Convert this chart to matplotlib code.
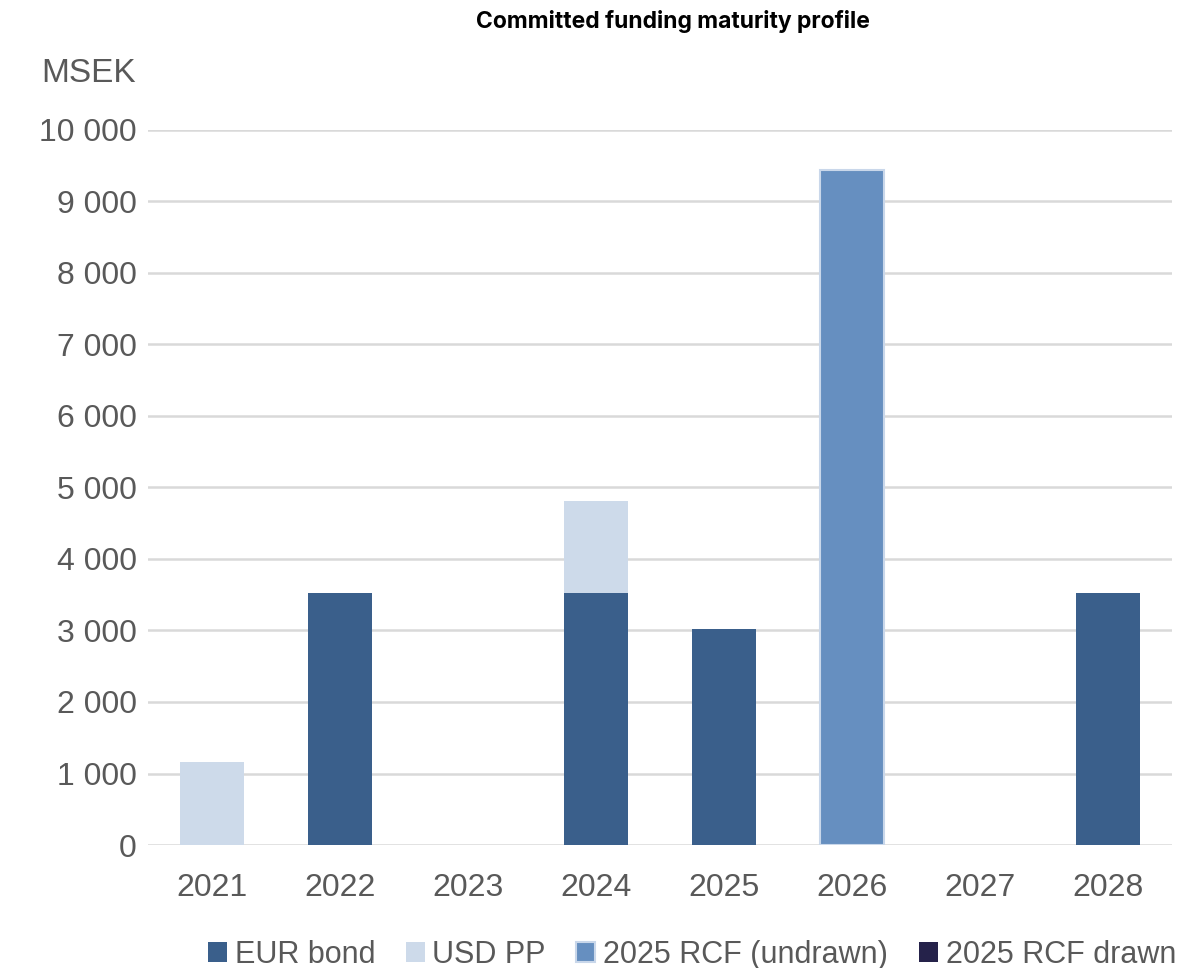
import matplotlib
matplotlib.use('Agg')
import matplotlib.pyplot as plt
import numpy as np

years = ['2021', '2022', '2023', '2024', '2025', '2026', '2027', '2028']
eur_bond = [0, 3520, 0, 3520, 3020, 0, 0, 3520]
usd_pp = [1160, 0, 0, 1290, 0, 0, 0, 0]
rcf_undrawn = [0, 0, 0, 0, 0, 9440, 0, 0]
rcf_drawn = [0, 0, 0, 0, 0, 0, 0, 0]
yticks = [0, 1000, 2000, 3000, 4000, 5000, 6000, 7000, 8000, 9000, 10000]

plt.rcParams['font.family'] = ['Liberation Sans', 'DejaVu Sans']
txt = '#595959'

fig = plt.figure(figsize=(11.99, 9.68), dpi=100)
ax = fig.add_axes([0.1235, 0.127, 0.854, 0.739])

x = np.arange(len(years))
w = 0.5
series = [
    (np.array(eur_bond, float), '#3A5F8B', 'none', 'EUR bond'),
    (np.array(usd_pp, float), '#CDDAEA', 'none', 'USD PP'),
    (np.array(rcf_undrawn, float), '#668FC0', '#C9D7EA', '2025 RCF (undrawn)'),
    (np.array(rcf_drawn, float), '#25224A', 'none', '2025 RCF drawn'),
]
bottom = np.zeros(len(years))
for vals, col, ec, lab in series:
    m = vals > 0
    ax.bar(x[m], vals[m], w, bottom=bottom[m], color=col, edgecolor=ec,
           linewidth=1.5, zorder=3)
    # legend proxy
    ax.bar([0], [0], w, color=col, edgecolor=ec, linewidth=1.5, label=lab)
    bottom += vals

ax.set_xlim(-0.5, len(years) - 0.5)
ax.set_ylim(0, 10000)
ax.set_yticks(yticks)
ax.set_yticklabels([f'{v:,}'.replace(',', ' ') for v in yticks])
ax.set_xticks(x)
ax.set_xticklabels(years)
ax.tick_params(axis='both', length=0, labelsize=23, colors=txt)
ax.tick_params(axis='x', pad=20)
ax.tick_params(axis='y', pad=8)
ax.grid(axis='y', color='#D9D9D9', linewidth=1.8, zorder=0)
for s in ax.spines.values():
    s.set_visible(False)

fig.text(0.561, 0.978, 'Committed funding maturity profile', ha='center',
         va='center', fontsize=16.5, fontweight='bold', color='black',
         family=['Inter', 'DejaVu Sans'])
fig.text(0.034, 0.924, 'MSEK', ha='left', va='center', fontsize=24, color=txt)

leg = fig.legend(loc='lower center', bbox_to_anchor=(0.577, -0.03), ncol=4,
                 frameon=False, fontsize=22, handlelength=0.62, handleheight=0.62,
                 handletextpad=0.26, columnspacing=1.0, labelcolor=txt)

fig.savefig('out.png', dpi=100)
